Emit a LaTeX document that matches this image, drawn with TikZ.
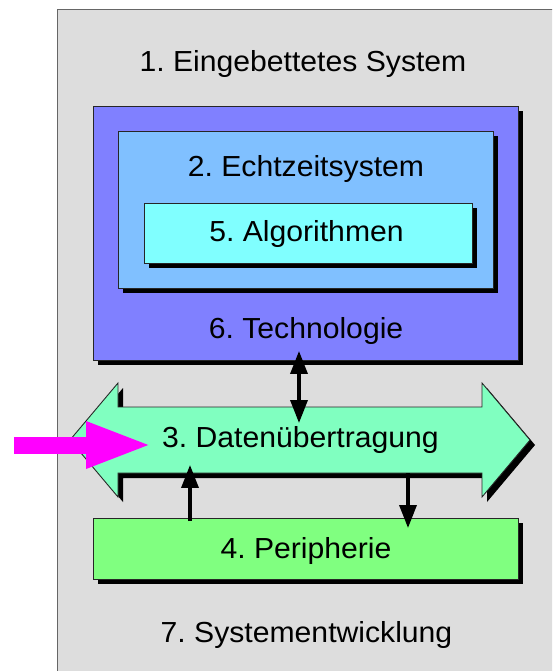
\documentclass[tikz,border=0pt]{standalone}
\usepackage{fontspec}
\setmainfont{Liberation Sans}[FakeStretch=1.04]
\usepackage{xcolor}
\usetikzlibrary{arrows.meta,shadows}

\definecolor{sysgray}{HTML}{DDDDDD}
\definecolor{techblue}{HTML}{8080FF}
\definecolor{rtblue}{HTML}{80C0FF}
\definecolor{algocyan}{HTML}{80FFFF}
\definecolor{busgreen}{HTML}{80FFC0}
\definecolor{perigreen}{HTML}{80FF80}
\definecolor{inmagenta}{HTML}{FF00FF}

\tikzset{
	>={Triangle[length=4.6mm, width=3.4mm]},
	lbl/.style={font=\fontsize{16.5}{19}\selectfont, inner sep=0pt, anchor=base},
	layer/.style={draw=black!85, line width=0.5pt, inner sep=0pt,
		general shadow={fill=black, shadow xshift=1mm, shadow yshift=-1mm}}
}
\frenchspacing

\begin{document}
\begin{tikzpicture}[x=0.02cm, y=-0.02cm]
		\useasboundingbox (0,0) rectangle (552,671);
		\clip (0,0) rectangle (552,671);
		\fill[white] (0,0) rectangle (552,671);
		\draw[black!60, fill=sysgray] (57,9) rectangle (590,700);
				%
		\node[layer, fill=techblue, minimum width=8.5cm, minimum height=5.08cm] (tech) at (305.5,233) {};
		\node[layer, fill=rtblue, minimum width=7.5cm, minimum height=3.14cm] (rts) at (305.5,209.5) {};
		\node[layer, fill=algocyan, minimum width=6.56cm, minimum height=1.2cm] (algo) at (308,233) {};
		\node[layer, fill=perigreen, minimum width=8.5cm, minimum height=1.22cm] (peri) at (305.5,548.5) {};
				%
		\draw[layer, fill=busgreen]
			(70,440) -- (118,383) -- (118,407) -- (482,407) -- (482,383)
			-- (530,440) -- (482,497) -- (482,473) -- (118,473) -- (118,497) -- cycle;
				%
		\node[lbl] (sysl) at (303,72) {1. Eingebettetes System};
		\node[lbl] (rtsl) at (306,177) {2. Echtzeitsystem};
		\node[lbl] (algol) at (306.5,242) {5. Algorithmen};
		\node[lbl] (techl) at (306,338) {6. Technologie};
		\node[lbl] (bus) at (300.5,447) {3. Datenübertragung};
		\node[lbl] (peril) at (306,558) {4. Peripherie};
		\node[lbl] (devl) at (306.5,642) {7. Systementwicklung};
				%
		\coordinate (t1) at (299,351);
		\coordinate (t2) at (299,423);
		\coordinate (p1) at (190,521);
		\coordinate (p2) at (190,465);
		\coordinate (p3) at (408,473);
		\coordinate (p4) at (408,528);
		\coordinate (in) at (14,445);
		\coordinate (inend) at (153,445);
				%
		\path[line width=2pt]
			(t1) edge[<->] (t2)
			(p1) edge[->] (p2)
			(p3) edge[->] (p4);
		\draw[inmagenta, line width=3.4mm, -{Triangle[length=13.4mm, width=8.4mm]}] (in) -- (inend);
	\end{tikzpicture}
\end{document}
